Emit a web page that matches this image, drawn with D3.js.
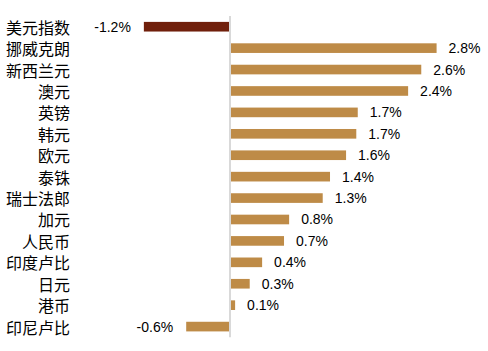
<!DOCTYPE html>
<html>
<head>
<meta charset="utf-8">
<script src="https://cdn.jsdelivr.net/npm/d3@7/dist/d3.min.js"></script>
<style>
  html, body { margin: 0; padding: 0; background: #fff; }
  svg { display: block; }
</style>
</head>
<body>
<svg id="chart" width="488" height="351"></svg>
<script>
// ---- data ----
const categories = ["美元指数","挪威克朗","新西兰元","澳元","英镑","韩元","欧元","泰铢","瑞士法郎","加元","人民币","印度卢比","日元","港币","印尼卢比"];
const values = [-1.18, 2.83, 2.62, 2.44, 1.75, 1.73, 1.59, 1.37, 1.27, 0.81, 0.74, 0.44, 0.27, 0.07, -0.60];
const valueLabels = ["-1.2%","2.8%","2.6%","2.4%","1.7%","1.7%","1.6%","1.4%","1.3%","0.8%","0.7%","0.4%","0.3%","0.1%","-0.6%"];
const highlight = ["美元指数"];

// ---- layout ----
const W = 488, H = 351;
const zeroX = 230, pxPerUnit = 73;
const svg = d3.select("#chart");

const x = d3.scaleLinear()
  .domain([-1.5, 3.0])
  .range([zeroX - 1.5 * pxPerUnit, zeroX + 3.0 * pxPerUnit]);

const y = d3.scaleBand()
  .domain(categories)
  .range([16, 337.3])
  .paddingInner(0.55)
  .paddingOuter(0.275);

const data = categories.map((c, i) => ({ cat: c, v: values[i], label: valueLabels[i] }));

// bars
svg.append("g").selectAll("rect")
  .data(data)
  .join("rect")
  .attr("x", d => Math.min(x(0), x(d.v)))
  .attr("y", d => y(d.cat))
  .attr("width", d => Math.abs(x(d.v) - x(0)))
  .attr("height", y.bandwidth())
  .attr("fill", d => highlight.includes(d.cat) ? "#701F0B" : "#BE8B47");

// zero axis line
svg.append("line")
  .attr("x1", x(0)).attr("x2", x(0))
  .attr("y1", 16).attr("y2", 337.3)
  .attr("stroke", "#d9d9d9")
  .attr("stroke-width", 2);

// category labels
svg.append("g").selectAll("text")
  .data(data)
  .join("text")
  .attr("x", 70)
  .attr("y", d => y(d.cat) + y.bandwidth() / 2)
  .attr("text-anchor", "end")
  .attr("dominant-baseline", "central")
  .attr("font-family", "'Noto Sans CJK SC', sans-serif")
  .attr("font-size", 16)
  .attr("fill", "#000")
  .text(d => d.cat);

// value labels
svg.append("g").selectAll("text")
  .data(data)
  .join("text")
  .attr("x", d => d.v >= 0 ? x(d.v) + 12 : x(d.v) - 13)
  .attr("y", d => y(d.cat) + y.bandwidth() / 2)
  .attr("text-anchor", d => d.v >= 0 ? "start" : "end")
  .attr("dominant-baseline", "central")
  .attr("font-family", "'Liberation Sans', Arial, sans-serif")
  .attr("font-size", 14)
  .attr("fill", "#000")
  .text(d => d.label);
</script>
</body>
</html>
